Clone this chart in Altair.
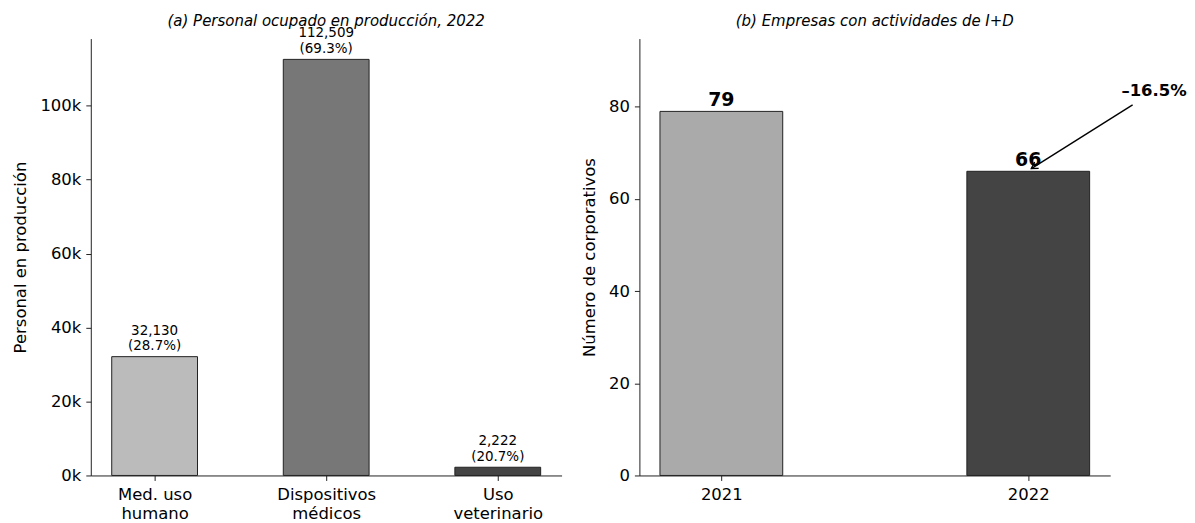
import json
import altair as alt
import pandas as pd

# ---------------- data ----------------
cats_a = ["Med. uso\nhumano", "Dispositivos\nmédicos", "Uso\nveterinario"]
personal = [32130, 112509, 2222]
share = [28.7, 69.3, 20.7]
colors_a = ["#bbbbbb", "#777777", "#444444"]

years = ["2021", "2022"]
empresas = [79, 66]
colors_b = ["#aaaaaa", "#444444"]
change_pct = -16.5

FONT = "DejaVu Sans"

# ---------------- panel (a) ----------------
df_a = pd.DataFrame({"idx": list(range(len(cats_a))), "val": personal,
                     "share": share, "color": colors_a})
df_a["x0"] = df_a["idx"] - 0.25
df_a["x1"] = df_a["idx"] + 0.25
df_a["lbl"] = [f"{v:,}\n({s}%)" for v, s in zip(personal, share)]

ymax_a = max(personal) * 1.05
xlab_a = json.dumps([c.split("\n") for c in cats_a], ensure_ascii=False)

xs_a = alt.Scale(domain=[-0.372, len(cats_a) - 1 + 0.372], nice=False, zero=False, padding=0)
ys_a = alt.Scale(domain=[0, ymax_a], nice=False, padding=0)

bars_a = alt.Chart(df_a).mark_bar(stroke="#222222", strokeWidth=1).encode(
    x=alt.X("x0:Q", scale=xs_a,
            axis=alt.Axis(values=list(range(len(cats_a))), labelExpr=f"{xlab_a}[datum.value]",
                          title=None, labelLineHeight=19, labelPadding=6)),
    x2="x1:Q",
    y=alt.Y("val:Q", scale=ys_a,
            axis=alt.Axis(values=[0, 20000, 40000, 60000, 80000, 100000],
                          labelExpr="format(datum.value/1000, 'd') + 'k'",
                          title="Personal en producción")),
    y2=alt.datum(0),
    color=alt.Color("color:N", scale=None),
)
text_a = alt.Chart(df_a).mark_text(font=FONT, fontSize=13.5, baseline="bottom", dy=-19,
                                   lineBreak="\n", lineHeight=15.5, color="#000000").encode(
    x=alt.X("idx:Q", scale=xs_a), y=alt.Y("val:Q", scale=ys_a), text="lbl:N")

panel_a = alt.layer(bars_a, text_a).properties(
    width=472, height=438,
    title=alt.Title("(a) Personal ocupado en producción, 2022", font=FONT, fontSize=15,
                    fontStyle="italic", fontWeight="normal", offset=-3, color="#000000"))

# ---------------- panel (b) ----------------
df_b = pd.DataFrame({"idx": list(range(len(years))), "val": empresas, "color": colors_b})
df_b["x0"] = df_b["idx"] - 0.2
df_b["x1"] = df_b["idx"] + 0.2
df_b["lbl"] = [str(v) for v in empresas]

ymax_b = max(empresas) * 1.2
xlab_b = json.dumps(years)
xs_b = alt.Scale(domain=[-0.267, len(years) - 1 + 0.267], nice=False, zero=False, padding=0)
ys_b = alt.Scale(domain=[0, ymax_b], nice=False, padding=0)

bars_b = alt.Chart(df_b).mark_bar(stroke="#222222", strokeWidth=1).encode(
    x=alt.X("x0:Q", scale=xs_b,
            axis=alt.Axis(values=list(range(len(years))), labelExpr=f"{xlab_b}[datum.value]",
                          title=None, labelPadding=6)),
    x2="x1:Q",
    y=alt.Y("val:Q", scale=ys_b,
            axis=alt.Axis(values=[0, 20, 40, 60, 80], title="Número de corporativos")),
    y2=alt.datum(0),
    color=alt.Color("color:N", scale=None),
)
text_b = alt.Chart(df_b).mark_text(font=FONT, fontSize=19, fontWeight="bold",
                                   baseline="bottom", dy=-1, color="#000000").encode(
    x=alt.X("idx:Q", scale=xs_b), y=alt.Y("val:Q", scale=ys_b), text="lbl:N")

# annotation (data coordinates)
ann = pd.DataFrame({"x": [1.34], "y": [80.4], "xt": [1.01], "yt": [66.6],
                    "tx": [1.41], "ty": [83.5],
                    "t": [f"{change_pct:.1f}%".replace("-", "–")]})
arrow_line = alt.Chart(ann).mark_rule(color="#000000", strokeWidth=1.4).encode(
    x=alt.X("x:Q", scale=xs_b), y=alt.Y("y:Q", scale=ys_b), x2="xt:Q", y2="yt:Q")
arrow_head = alt.Chart(ann).mark_point(
    shape="M -1 -0.6 L 0 0 L -1 0.6", filled=False, stroke="#000000", strokeWidth=1.4,
    size=160, angle=148, opacity=1).encode(
    x=alt.X("xt:Q", scale=xs_b), y=alt.Y("yt:Q", scale=ys_b))
ann_text = alt.Chart(ann).mark_text(font=FONT, fontSize=16.5, fontWeight="bold",
                                    baseline="middle", align="center", color="#000000").encode(
    x=alt.X("tx:Q", scale=xs_b), y=alt.Y("ty:Q", scale=ys_b), text="t:N")

panel_b = alt.layer(bars_b, text_b, arrow_line, arrow_head, ann_text).properties(
    width=472, height=438,
    title=alt.Title("(b) Empresas con actividades de I+D", font=FONT, fontSize=15,
                    fontStyle="italic", fontWeight="normal", offset=10, color="#000000"))

chart = alt.hconcat(panel_a, panel_b, spacing=20).properties(
    padding={"left": 4, "top": 5, "right": 0, "bottom": 0}
).configure_view(stroke=None).configure_axis(
    grid=False, domainColor="#222222", domainWidth=1, tickColor="#222222", tickWidth=1,
    tickSize=5, labelFont=FONT, labelFontSize=16.5, labelColor="#000000", labelPadding=5,
    titleFont=FONT, titleFontSize=16.5, titleFontWeight="normal", titleColor="#000000",
    titlePadding=11, labelFlush=False, labelOverlap=False
)

chart.save("out.html", embed_options={"renderer": "svg", "actions": False})
